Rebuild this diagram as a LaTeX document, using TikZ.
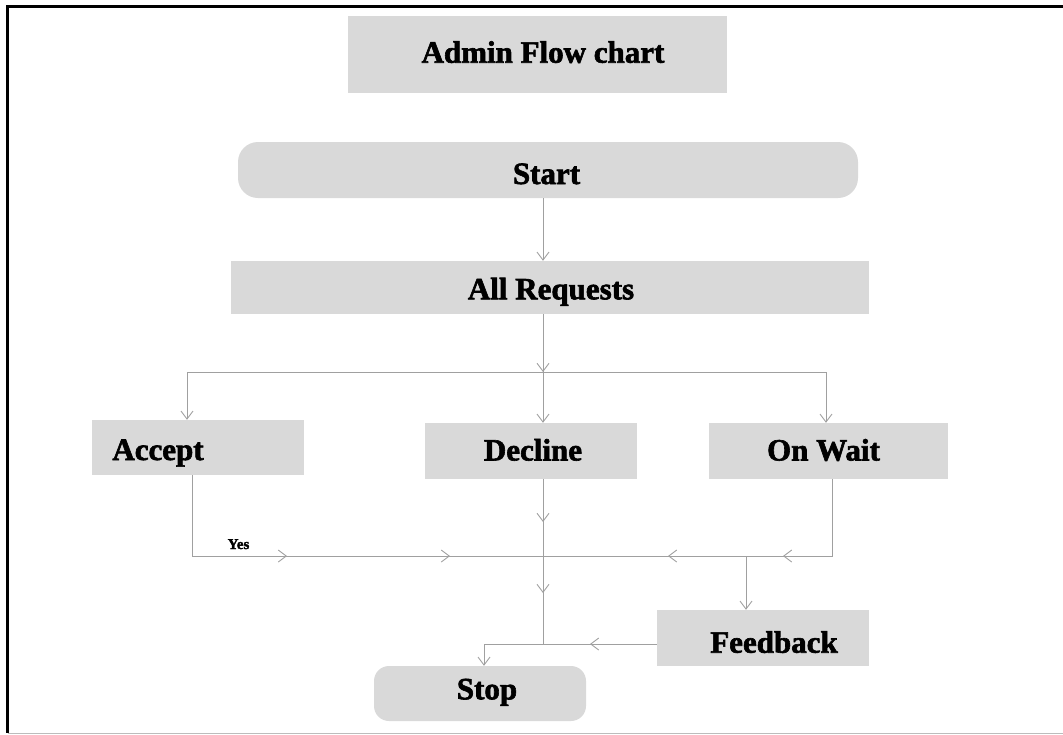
\documentclass[tikz,border=0pt]{standalone}
\usepackage{fontspec}
\setmainfont{Liberation Serif}[BoldFeatures={FakeBold=2}]
\usetikzlibrary{arrows.meta}

\definecolor{boxgray}{RGB}{217,217,217}
\definecolor{linegray}{RGB}{160,160,160}

\tikzset{
  box/.style={fill=boxgray, draw=none, inner sep=0pt},
  roundbox/.style={box, rounded corners=#1},
  lbl/.style={font=\fontsize{31}{36}\selectfont\bfseries, inner sep=0pt, anchor=base},
  small/.style={font=\fontsize{15}{18}\selectfont\bfseries, inner sep=0pt},
  conn/.style={draw=linegray, line width=0.9pt},
  tipline/.style={conn, -{Straight Barb[length=8pt,width=12pt,line width=0.9pt]}},
}

% arrowhead placed inside a line: from (#1) pointing towards (#2)
\newcommand{\midtip}[2]{\draw[tipline] (#1) -- (#2);}

\begin{document}
\begin{tikzpicture}[x=1pt, y=-1pt]
\useasboundingbox (0,0) rectangle (1063,734);

% frame
\draw[black, line width=2.2pt] (1063,6.5) -- (7.5,6.5) -- (7.5,733);
\draw[linegray!70, line width=0.9pt] (7.5,733) -- (1063,733);

% boxes
\node[box, minimum width=379pt, minimum height=77pt] (title) at (537.5,54.5) {};
\node[roundbox=20pt, minimum width=620pt, minimum height=56pt] (start) at (548,170) {};
\node[box, minimum width=638pt, minimum height=53pt] (req) at (550,287.5) {};
\node[box, minimum width=212pt, minimum height=55pt] (acc) at (198,447.5) {};
\node[box, minimum width=212pt, minimum height=56pt] (dec) at (531,451) {};
\node[box, minimum width=239pt, minimum height=56pt] (wait) at (828.5,451) {};
\node[box, minimum width=212pt, minimum height=56pt] (fb) at (763,638) {};
\node[roundbox=15pt, minimum width=212pt, minimum height=55pt] (stop) at (480,693.5) {};

% texts (placed by baseline)
\node[lbl] (titleT) at (543,62.7) {Admin Flow chart};
\node[lbl] (startT) at (546.5,184) {Start};
\node[lbl] (reqT) at (551,299.3) {All Requests};
\node[lbl] (accT) at (158,460) {Accept};
\node[lbl] (decT) at (533,460.5) {Decline};
\node[lbl] (waitT) at (823.5,460.5) {On Wait};
\node[lbl] (fbT) at (774,652.7) {Feedback};
\node[lbl] (stopT) at (487,699.3) {Stop};
\node[small, anchor=base] (yes) at (238.5,549) {Yes};

% junction points
\coordinate (sb) at (start.south -| 543,0);
\coordinate (rt) at (req.north -| 543,0);
\coordinate (rb) at (req.south -| 543,0);
\coordinate (split) at (543,372);
\coordinate (splitL) at (187,372);
\coordinate (splitR) at (826,372);
\coordinate (dt) at (dec.north -| 543,0);
\coordinate (db) at (dec.south -| 543,0);
\coordinate (ab) at (acc.south -| 192,0);
\coordinate (aj) at (192,556);
\coordinate (wb) at (wait.south -| 832,0);
\coordinate (wj) at (832,556);
\coordinate (fj) at (746,556);
\coordinate (fbt) at (fb.north -| 746,0);
\coordinate (merge) at (543,644);
\coordinate (fbl) at (fb.west |- 0,644);
\coordinate (stopj) at (484,644);
\coordinate (stopt) at (stop.north -| 484,0);

% start to requests
\draw[tipline] (sb) -- (rt);

% requests fan-out
\draw[conn] (rb) -- (split);
\midtip{543,362}{split}
\draw[tipline] (split) -- (dt);
\draw[tipline] (splitL) -- (splitL |- acc.north);
\draw[tipline] (splitR) -- (splitR |- wait.north);
\draw[conn] (splitL) -- (splitR);

% accept and on-wait into the common line
\draw[conn] (ab) -- (aj) -- (wj) -- (wb);
\midtip{279,556}{287,556}
\midtip{442,556}{450,556}
\midtip{791,556}{783,556}
\midtip{676,556}{668,556}

% decline down to the merge
\draw[conn] (db) -- (merge);
\midtip{543,514}{543,522}
\midtip{543,585}{543,593}

% on-wait to feedback
\draw[tipline] (fj) -- (fbt);

% feedback to stop
\draw[conn] (fbl) -- (stopj);
\midtip{598,644}{590,644}
\draw[tipline] (stopj) -- (stopt);
\end{tikzpicture}
\end{document}
